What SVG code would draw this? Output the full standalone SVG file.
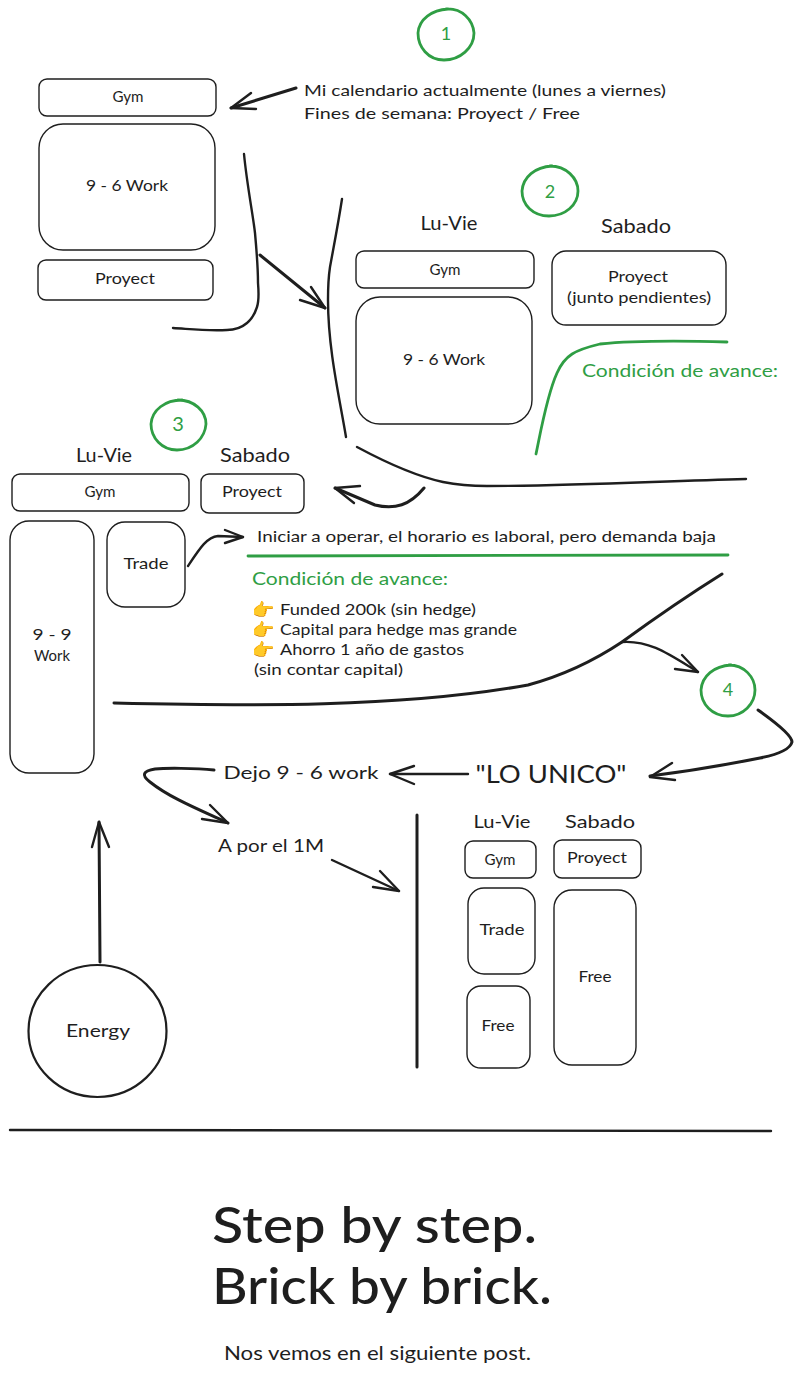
<svg xmlns="http://www.w3.org/2000/svg" width="801" height="1377" viewBox="0 0 801 1377">
<style>
text{font-family:"Lato","Noto Sans",sans-serif;fill:#1e1e1e;font-size:15px;text-anchor:middle}
.s{text-anchor:start}
.g{fill:#2f9e44}
.e{font-family:"DejaVu Sans","Noto Sans",sans-serif;fill:#f0ad2b;font-size:18px;text-anchor:start}
.b{fill:none;stroke:#1e1e1e;stroke-width:1.4}
.l{fill:none;stroke:#1e1e1e;stroke-width:2.4;stroke-linecap:round;stroke-linejoin:round}
.t{stroke-width:3}
.c{fill:none;stroke:#2f9e44;stroke-width:2.8;stroke-linecap:round}
</style>
<rect width="801" height="1377" fill="#fff"/>
<g id="connectors">
<path class="l t" d="M296 88L231 108"/><path class="l" d="M251 93L231 108L256 109"/>
<path class="l" d="M244 154C247 185 253 215 255 233C257 255 258 270 258 283C259 295 259 301 257 307C254 316 251 320 247 323C240 329 233 330 227 330C205 331 190 329 173 328"/>
<path class="l" d="M342 199C338 225 334 245 330 267C328 280 328 290 328 300C328 350 340 400 346 437"/>
<path class="l t" d="M260 255L325 308"/><path class="l" d="M311 287L325 308L300 300"/>
<path class="l" d="M357 447C385 462 415 476 443 482C458 485 470 486 487 486C580 486 660 481 746 479"/>
<path class="l t" d="M424 488C410 505 395 510 375 505L335 488"/><path class="l" d="M360 486L335 488L354 503"/>
<path class="l" d="M188 566C200 548 207 537 218 536L243 537"/><path class="l" d="M225 530L243 537L225 543"/>
<path class="l t" d="M114 703C250 706 400 708 528 685C565 675 595 660 622 642C655 618 690 594 722 574"/>
<path class="l" d="M622 642C650 640 670 655 698 672"/><path class="l" d="M682 655L698 672L675 669"/>
<path class="l t" d="M758 710C775 722 792 735 792 742C790 750 775 755 760 758C720 766 690 771 650 776"/><path class="l" d="M672 763L650 777L675 780"/>
<path class="l" d="M468 774L390 774"/><path class="l" d="M414 766L390 774L414 784"/>
<path class="l t" d="M214 770C195 768 165 768 155 769C143 771 141 775 150 782C170 798 200 810 228 823"/><path class="l" d="M210 805L228 823L202 819"/>
<path class="l" d="M332 860L399 891"/><path class="l" d="M380 871L399 891L373 887"/>
<path class="l t" d="M417 815L417 1067"/>
<path class="l t" d="M100 962L99 822"/><path class="l" d="M92 847L99 822L109 847"/>
<path class="l" d="M10 1130L771 1131"/>
<path class="c" d="M536 454C541 430 547 395 557 373C565 355 575 350 600 344C640 340 690 341 727 342"/>
<path class="c" d="M248 556L728 555"/>
</g>
<g id="step1"><path class="c" d="M446 9C462 8 473 20 474 33C474 48 460 60 444 60C428 60 418 47 418 33C419 19 432 10 448 9"/><text class="g" x="446" y="40" style="font-size:18px">1</text></g>
<g id="step2"><path class="c" d="M550 166C566 166 578 178 578 191C578 205 565 216 549 216C533 216 522 205 522 191C523 177 535 167 552 166"/><text class="g" x="550" y="198" style="font-size:18px">2</text></g>
<g id="step3"><path class="c" d="M178 400C194 400 206 411 206 424C205 438 193 450 177 450C162 450 151 438 151 424C152 410 165 400 182 400"/><text class="g" x="178" y="431" style="font-size:20px">3</text></g>
<g id="step4"><path class="c" d="M729 665C744 665 755 677 755 690C755 704 743 716 728 716C712 716 701 704 701 690C702 676 714 666 731 665"/><text class="g" x="728" y="696" style="font-size:18px">4</text></g>
<g id="gym1"><rect class="b" x="39" y="79" width="177" height="37" rx="8"/><text x="128" y="102" textLength="31" lengthAdjust="spacingAndGlyphs">Gym</text></g>
<g id="work1"><rect class="b" x="39" y="124" width="176" height="126" rx="24"/><text x="127" y="191" textLength="82" lengthAdjust="spacingAndGlyphs">9 - 6 Work</text></g>
<g id="proyect1"><rect class="b" x="38" y="260" width="175" height="40" rx="8"/><text x="125" y="284" textLength="60" lengthAdjust="spacingAndGlyphs">Proyect</text></g>
<g id="note1"><text class="s" x="304" y="96" style="font-size:16px" textLength="362" lengthAdjust="spacingAndGlyphs">Mi calendario actualmente (lunes a viernes)</text><text class="s" x="304" y="119" style="font-size:16px" textLength="276" lengthAdjust="spacingAndGlyphs">Fines de semana: Proyect / Free</text></g>
<g id="head2"><text x="449" y="230" style="font-size:19px" textLength="57" lengthAdjust="spacingAndGlyphs">Lu-Vie</text><text x="636" y="233" style="font-size:19px" textLength="70" lengthAdjust="spacingAndGlyphs">Sabado</text></g>
<g id="gym2"><rect class="b" x="356" y="251" width="178" height="37" rx="8"/><text x="445" y="275" textLength="31" lengthAdjust="spacingAndGlyphs">Gym</text></g>
<g id="proyect2"><rect class="b" x="552" y="251" width="174" height="74" rx="14"/><text x="638" y="282" textLength="60" lengthAdjust="spacingAndGlyphs">Proyect</text><text x="639" y="303" textLength="144" lengthAdjust="spacingAndGlyphs">(junto pendientes)</text></g>
<g id="work2"><rect class="b" x="356" y="297" width="176" height="127" rx="24"/><text x="444" y="365" textLength="82" lengthAdjust="spacingAndGlyphs">9 - 6 Work</text></g>
<g id="cond2"><text class="s g" x="582" y="377" style="font-size:18px" textLength="196" lengthAdjust="spacingAndGlyphs">Condición de avance:</text></g>
<g id="head3"><text x="104" y="462" style="font-size:19px" textLength="56" lengthAdjust="spacingAndGlyphs">Lu-Vie</text><text x="255" y="462" style="font-size:19px" textLength="70" lengthAdjust="spacingAndGlyphs">Sabado</text></g>
<g id="gym3"><rect class="b" x="12" y="474" width="177" height="37" rx="8"/><text x="100" y="497" textLength="31" lengthAdjust="spacingAndGlyphs">Gym</text></g>
<g id="proyect3"><rect class="b" x="201" y="474" width="103" height="39" rx="8"/><text x="252" y="497" textLength="60" lengthAdjust="spacingAndGlyphs">Proyect</text></g>
<g id="work3"><rect class="b" x="10" y="521" width="84" height="252" rx="19"/><text x="52" y="640" textLength="39" lengthAdjust="spacingAndGlyphs">9 - 9</text><text x="52" y="661" textLength="36" lengthAdjust="spacingAndGlyphs">Work</text></g>
<g id="trade3"><rect class="b" x="107" y="522" width="78" height="85" rx="18"/><text x="146" y="569" textLength="45" lengthAdjust="spacingAndGlyphs">Trade</text></g>
<g id="note3"><text class="s" x="257" y="542" style="font-size:15px" textLength="459" lengthAdjust="spacingAndGlyphs">Iniciar a operar, el horario es laboral, pero demanda baja</text></g>
<g id="cond3"><text class="s g" x="252" y="585" style="font-size:18px" textLength="196" lengthAdjust="spacingAndGlyphs">Condición de avance:</text>
<text class="e" x="252" y="616">👉</text><text class="s" x="280" y="615" textLength="196" lengthAdjust="spacingAndGlyphs">Funded 200k (sin hedge)</text>
<text class="e" x="252" y="636">👉</text><text class="s" x="280" y="635" textLength="237" lengthAdjust="spacingAndGlyphs">Capital para hedge mas grande</text>
<text class="e" x="252" y="656">👉</text><text class="s" x="280" y="655" textLength="184" lengthAdjust="spacingAndGlyphs">Ahorro 1 año de gastos</text>
<text class="s" x="254" y="675" textLength="149" lengthAdjust="spacingAndGlyphs">(sin contar capital)</text></g>
<g id="lounico"><text x="551" y="783" style="font-size:25px" textLength="151" lengthAdjust="spacingAndGlyphs">"LO UNICO"</text></g>
<g id="dejo"><text x="301" y="779" style="font-size:18px" textLength="155" lengthAdjust="spacingAndGlyphs">Dejo 9 - 6 work</text></g>
<g id="apor"><text x="271" y="852" style="font-size:18px" textLength="106" lengthAdjust="spacingAndGlyphs">A por el 1M</text></g>
<g id="head4"><text x="502" y="828" style="font-size:18px" textLength="57" lengthAdjust="spacingAndGlyphs">Lu-Vie</text><text x="600" y="828" style="font-size:18px" textLength="70" lengthAdjust="spacingAndGlyphs">Sabado</text></g>
<g id="gym4"><rect class="b" x="465" y="841" width="71" height="37" rx="8"/><text x="500" y="865" textLength="31" lengthAdjust="spacingAndGlyphs">Gym</text></g>
<g id="proyect4"><rect class="b" x="554" y="840" width="87" height="38" rx="8"/><text x="597" y="863" textLength="60" lengthAdjust="spacingAndGlyphs">Proyect</text></g>
<g id="trade4"><rect class="b" x="468" y="888" width="67" height="86" rx="16"/><text x="502" y="935" textLength="45" lengthAdjust="spacingAndGlyphs">Trade</text></g>
<g id="free4"><rect class="b" x="467" y="986" width="63" height="82" rx="14"/><text x="498" y="1031" textLength="33" lengthAdjust="spacingAndGlyphs">Free</text></g>
<g id="free5"><rect class="b" x="554" y="890" width="82" height="175" rx="18"/><text x="595" y="982" textLength="33" lengthAdjust="spacingAndGlyphs">Free</text></g>
<g id="energy"><ellipse cx="97.5" cy="1031" rx="69" ry="66" fill="none" stroke="#1e1e1e" stroke-width="2.2"/><text x="98" y="1037" style="font-size:17px" textLength="64" lengthAdjust="spacingAndGlyphs">Energy</text></g>
<g id="closing"><text class="s" x="212" y="1243" style="font-size:50px;font-weight:500" textLength="325" lengthAdjust="spacingAndGlyphs">Step by step.</text><text class="s" x="212" y="1304" style="font-size:50px;font-weight:500" textLength="340" lengthAdjust="spacingAndGlyphs">Brick by brick.</text><text class="s" x="224" y="1360" style="font-size:19px" textLength="307" lengthAdjust="spacingAndGlyphs">Nos vemos en el siguiente post.</text></g>
</svg>
